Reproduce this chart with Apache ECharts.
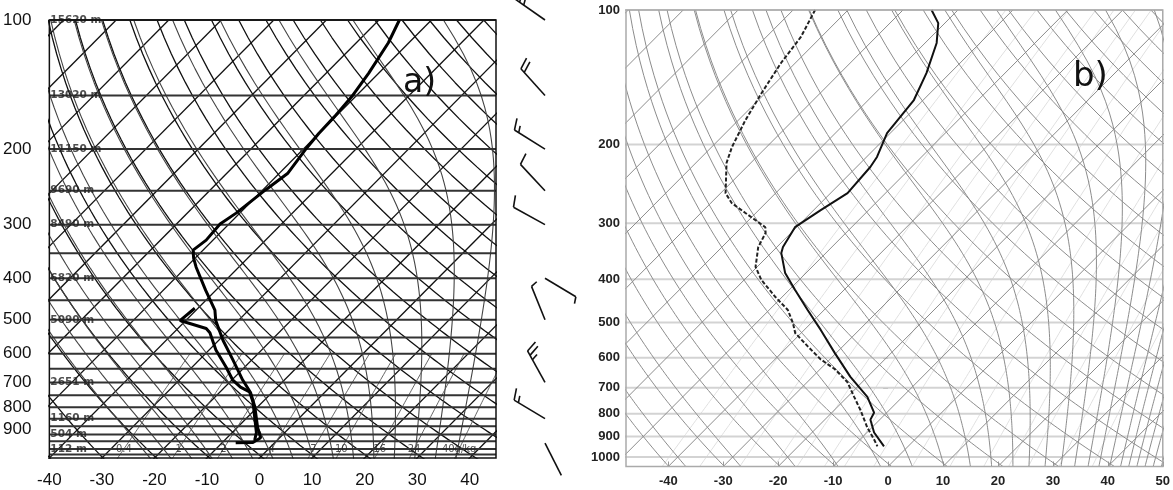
<!DOCTYPE html>
<html>
<head>
<meta charset="utf-8">
<script src="https://cdn.jsdelivr.net/npm/echarts@6/dist/echarts.min.js"></script>
<style>
html, body { margin: 0; padding: 0; background: #fff; }
#chart { width: 1173px; height: 490px; }
</style>
</head>
<body>
<div id="chart"></div>
<script>
// panel a) sounding, pressure hPa / temperature C
var aTPres = [100, 113, 133, 151, 168, 184, 201, 228, 249, 282, 299, 326, 344, 359, 377, 427, 475, 502, 558, 620, 690, 740, 797, 892, 942, 966, 968];
var aTemp = [-56.1, -53.9, -51.9, -50.7, -50.2, -50.0, -49.5, -48.4, -49.5, -50.7, -51.7, -51.3, -51.9, -50.3, -48.1, -41.9, -36.4, -34.3, -29.2, -23.6, -18.0, -14.0, -10.6, -6.1, -3.6, -4.2, -7.4];
var aDPres = [470, 502, 524, 536, 588, 645, 690, 718, 736, 776, 855, 916, 954];
var aDew = [-40.6, -41.1, -34.6, -33.1, -28.7, -23.5, -19.9, -17.0, -14.4, -11.9, -8.1, -5.4, -4.3];

// panel b) sounding
var bTPres = [100, 107, 118.5, 138.4, 159, 188.5, 213.2, 224.5, 256.9, 280.4, 306.1, 339, 349.8, 387.5, 423, 468.9, 519.6, 584.8, 661.7, 733.3, 795.8, 824.9, 881.4, 946.3];
var bTemp = [-74.8, -71.2, -67.9, -64.3, -61.7, -60.6, -58.1, -57.5, -56.9, -58.7, -60.3, -58.9, -58.1, -53.8, -48.9, -43.0, -37.0, -30.3, -23.1, -16.4, -12.3, -11.7, -8.7, -4.4];
var bDPres = [100, 114.9, 131.4, 153.3, 176.6, 202.6, 219.9, 256.9, 270.3, 284.5, 306.1, 315.4, 339, 375.4, 401.4, 438.7, 468.9, 501.6, 527.8, 566.2, 604.5, 636.2, 679.8, 733.3, 786, 859.7, 916, 946.3];
var bDew = [-96.0, -93.7, -92.6, -90.7, -88.7, -86.3, -84.4, -79.1, -76.2, -71.9, -65.7, -64.6, -63.4, -60.3, -56.9, -51.2, -46.6, -43.3, -41.1, -36.3, -31.7, -27.3, -22.7, -18.8, -15.2, -10.8, -7.3, -5.6];

// wind barbs of panel a)
var windPres = [100, 150, 200, 250, 300, 400, 500, 700, 850, 970];
var windDir = [305, 318, 302, 317, 299, 121, 338, 331, 301, 153];
var windSpd = [25, 20, 15, 10, 10, 5, 5, 25, 15, 2];

// height labels of panel a)
var hgtPres = [100, 150, 200, 250, 300, 400, 500, 700, 850, 925, 1000];
var hgtText = ['15620 m', '13020 m', '11150 m', '9690 m', '8490 m', '6820 m', '5090 m', '2651 m', '1160 m', '504 m', '112 m'];

// axis ticks
var aPLabels = [100, 200, 300, 400, 500, 600, 700, 800, 900];
var bPLabels = [100, 200, 300, 400, 500, 600, 700, 800, 900, 1000];
var aTLabels = [-40, -30, -20, -10, 0, 10, 20, 30, 40];
var bTLabels = [-40, -30, -20, -10, 0, 10, 20, 30, 40, 50];

// diagram background lines
var aLevels = [100, 150, 200, 250, 300, 350, 400, 450, 500, 550, 600, 650, 700, 750, 800, 850, 885, 925, 960, 1000, 1030];
var bLevels = [100, 200, 300, 400, 500, 600, 700, 800, 900, 1000];
var isoA = [-120, -110, -100, -90, -80, -70, -60, -50, -40, -30, -20, -10, 0, 10, 20, 30, 40];
var isoB = [-130, -120, -110, -100, -90, -80, -70, -60, -50, -40, -30, -20, -10, 0, 10, 20, 30, 40, 50];
var thetaA = [220, 230, 240, 250, 260, 270, 280, 290, 300, 310, 320, 330, 340, 350, 360, 370, 380, 390, 400, 410, 420, 430, 440, 450, 460];
var thetaB = [220, 230, 240, 250, 260, 270, 280, 290, 300, 310, 320, 330, 340, 350, 360, 370, 380, 390, 400, 410, 420, 430, 440, 450, 460, 470, 480];
var thetaWA = [-24, -20, -16, -12, -8, -4, 0, 4, 8, 12, 16, 20, 24, 28, 32, 36];
var thetaWB = [-40, -30, -20, -12, -4, 2, 8, 13, 17, 21, 24, 27, 30, 32.5, 35, 37, 39, 41, 42.5, 44, 45.5, 47, 48.5];
var mixA = [0.4, 1, 2, 4, 7, 10, 16, 24, 40];
var mixB = [0.1, 0.2, 0.4, 0.7, 1, 1.5, 2, 3, 5, 8, 12, 16, 20, 28, 40];

var SKEW = 81, PBOT = 1050;
function sx(T, p) { return T + SKEW * Math.log10(PBOT / p); }
function yv(p) { return Math.log10(p); }

function esat(Tk) { var c = Tk - 273.15; return 6.112 * Math.exp(17.67 * c / (c + 243.5)); }
function dTdp(Tk, p) {
    var es = esat(Tk), rs = 0.622 * es / (p - es);
    return (287.04 * Tk + 2.501e6 * rs) / (p * (1005.7 + 2.501e6 * 2.501e6 * rs * 0.622 / (287.04 * Tk * Tk)));
}
function moist(tw) {
    var pts = [], T = tw + 273.15, p, k1, step = 5;
    var up = [];
    for (p = 1000; p > 100; p -= step) {
        if (p % 10 == 0) up.push([sx(T - 273.15, p), yv(p)]);
        k1 = dTdp(T, p);
        T = T - dTdp(T - k1 * step / 2, p - step / 2) * step;
    }
    up.push([sx(T - 273.15, 100), yv(100)]);
    T = tw + 273.15;
    for (p = 1000; p < 1060; p += step) {
        k1 = dTdp(T, p);
        T = T + dTdp(T + k1 * step / 2, p + step / 2) * step;
        if ((p + step) % 10 == 0) pts.unshift([sx(T - 273.15, p + step), yv(p + step)]);
    }
    return pts.concat(up);
}
function dry(theta) {
    var pts = [];
    for (var p = 1060; p >= 100; p -= 10) pts.push([sx(theta * Math.pow(p / 1000, 0.2857) - 273.15, p), yv(p)]);
    return pts;
}
function tdOf(w, p) { var e = w * p / (622 + w), l = Math.log(e / 6.112); return 243.5 * l / (17.67 - l); }
function mixing(w, pTop) {
    var pts = [];
    for (var p = 1060; p >= pTop; p -= 10) pts.push([sx(tdOf(w, p), p), yv(p)]);
    return pts;
}

function line(gi, data, color, width, type, z) {
    return {
        type: 'line', xAxisIndex: gi, yAxisIndex: gi, data: data, symbol: 'none', silent: true,
        animation: false, z: z || 2, lineStyle: { color: color, width: width, type: type || 'solid' }
    };
}

var series = [];
// panel a grid lines
isoA.forEach(function (T) { series.push(line(0, [[sx(T, 1060), yv(1060)], [sx(T, 100), yv(100)]], '#111', 1.3)); });
thetaA.forEach(function (th) { series.push(line(0, dry(th), '#111', 1.3)); });
thetaWA.forEach(function (tw) { series.push(line(0, moist(tw), '#444', 1.1)); });
mixA.forEach(function (w) { series.push(line(0, mixing(w, 600), '#555', 0.9)); });
aLevels.forEach(function (p) { series.push(line(0, [[-40, yv(p)], [45, yv(p)]], '#333', 2)); });
// panel b grid lines
mixB.forEach(function (w) { series.push(line(1, mixing(w, 100), '#e0e0e0', 1)); });
bLevels.forEach(function (p) { series.push(line(1, [[-48, yv(p)], [50, yv(p)]], '#d3d3d3', 2)); });
isoB.forEach(function (T) { series.push(line(1, [[sx(T, 1060), yv(1060)], [sx(T, 100), yv(100)]], '#8c8c8c', 1)); });
thetaB.forEach(function (th) { series.push(line(1, dry(th), '#8c8c8c', 1)); });
thetaWB.forEach(function (tw) { series.push(line(1, moist(tw), '#8c8c8c', 1)); });

// soundings
series.push(line(0, aTPres.map(function (p, i) { return [sx(aTemp[i], p), yv(p)]; }), '#000', 3, 'solid', 10));
series.push(line(0, aDPres.map(function (p, i) { return [sx(aDew[i], p), yv(p)]; }), '#000', 3, 'solid', 10));
series.push(line(1, bTPres.map(function (p, i) { return [sx(bTemp[i], p), yv(p)]; }), '#111', 2, 'solid', 10));
series.push(line(1, bDPres.map(function (p, i) { return [sx(bDew[i], p), yv(p)]; }), '#222', 2, [4, 2], 10));

// height labels
series.push({
    type: 'scatter', xAxisIndex: 0, yAxisIndex: 0, symbolSize: 0, clip: false, silent: true, animation: false, z: 12,
    data: hgtPres.map(function (p, i) { return { value: [-40, yv(p)], name: hgtText[i] }; }),
    label: { show: true, position: 'right', distance: 1, formatter: '{b}', fontSize: 10.5, fontWeight: 'bold', color: '#222', fontFamily: 'DejaVu Sans' }
});
// mixing ratio labels
series.push({
    type: 'scatter', xAxisIndex: 0, yAxisIndex: 0, symbolSize: 0, clip: false, silent: true, animation: false, z: 12,
    data: mixA.map(function (w, i) { return { value: [sx(tdOf(w, 1000), 1000), yv(1000)], name: i == mixA.length - 1 ? w + 'g/kg' : String(w) }; }),
    label: { show: true, position: 'inside', formatter: '{b}', fontSize: 10, color: '#222', fontFamily: 'DejaVu Sans' }
});
// wind barbs
series.push({
    type: 'custom', xAxisIndex: 2, yAxisIndex: 2, silent: true, animation: false, z: 12,
    data: windPres.map(function (p, i) { return [yv(p), windDir[i], windSpd[i]]; }),
    renderItem: function (params, api) {
        var pt = api.coord([0.5, api.value(0)]);
        var d = api.value(1) * Math.PI / 180, spd = api.value(2);
        var vx = Math.sin(d), vy = -Math.cos(d), L = 36;
        var tx = pt[0] + L * vx, ty = pt[1] + L * vy;
        var px = -vy, py = vx;
        var st = { stroke: '#111', lineWidth: 1.6 };
        var kids = [{ type: 'line', shape: { x1: pt[0], y1: pt[1], x2: tx, y2: ty }, style: st }];
        var full = Math.floor(spd / 10), half = (spd % 10) >= 5 ? 1 : 0;
        var k = 0, bx, by, len;
        for (var j = 0; j < full + half; j++) {
            len = j < full ? 12 : 7;
            bx = tx - k * 5 * vx; by = ty - k * 5 * vy;
            kids.push({ type: 'line', shape: { x1: bx, y1: by, x2: bx + len * (px * 0.94 + vx * 0.34), y2: by + len * (py * 0.94 + vy * 0.34) }, style: st });
            k++;
        }
        return { type: 'group', children: kids };
    }
});

var chart = echarts.init(document.getElementById('chart'));
chart.setOption({
    animation: false,
    grid: [
        { left: 47, top: 20, width: 449, height: 438, show: true, borderColor: '#111', borderWidth: 1.5, z: 20 },
        { left: 626, top: 10, width: 542, height: 456.5, show: true, borderColor: '#aaa', borderWidth: 1.5, z: 20 },
        { left: 525, top: 20, width: 40, height: 438, show: false }
    ],
    xAxis: [
        {
            gridIndex: 0, type: 'value', min: -40, max: 45,
            axisLine: { show: false }, axisTick: { show: false }, splitLine: { show: false },
            axisLabel: { customValues: aTLabels, fontSize: 17, margin: 14, color: '#111', fontFamily: 'Liberation Sans' }
        },
        {
            gridIndex: 1, type: 'value', min: -47.7, max: 50,
            axisLine: { show: false }, splitLine: { show: false },
            axisTick: { show: true, inside: true, length: 5, customValues: bTLabels, lineStyle: { color: '#999' } },
            axisLabel: { customValues: bTLabels, fontSize: 13, fontWeight: 'bold', margin: 8, color: '#222', fontFamily: 'Liberation Sans' }
        },
        { gridIndex: 2, type: 'value', min: 0, max: 1, show: false }
    ],
    yAxis: [
        {
            gridIndex: 0, type: 'value', min: 2, max: Math.log10(PBOT), inverse: true,
            axisLine: { show: false }, axisTick: { show: false }, splitLine: { show: false },
            axisLabel: {
                customValues: aPLabels.map(Math.log10), fontSize: 17, margin: 18, color: '#111', fontFamily: 'Liberation Sans',
                formatter: function (v) { return Math.round(Math.pow(10, v)); }
            }
        },
        {
            gridIndex: 1, type: 'value', min: 2, max: Math.log10(PBOT), inverse: true,
            axisLine: { show: false }, splitLine: { show: false },
            axisTick: { show: true, length: 5, customValues: bPLabels.map(Math.log10), lineStyle: { color: '#999' } },
            axisLabel: {
                customValues: bPLabels.map(Math.log10), fontSize: 13, fontWeight: 'bold', margin: 6, color: '#222', fontFamily: 'Liberation Sans',
                formatter: function (v) { return Math.round(Math.pow(10, v)); }
            }
        },
        { gridIndex: 2, type: 'value', min: 2, max: Math.log10(PBOT), inverse: true, show: false }
    ],
    graphic: [
        { type: 'text', left: 403, top: 67, z: 30, style: { text: 'a)', fontSize: 33, fontFamily: 'DejaVu Sans', fill: '#111' } },
        { type: 'text', left: 1073, top: 60, z: 30, style: { text: 'b)', fontSize: 34, fontFamily: 'DejaVu Sans', fill: '#111' } }
    ],
    series: series
});
</script>
</body>
</html>
